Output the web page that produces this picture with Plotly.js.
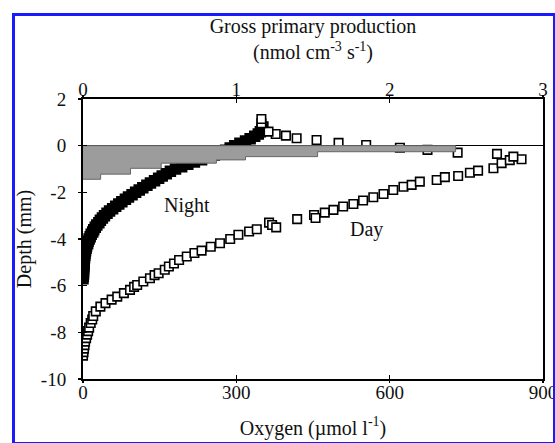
<!DOCTYPE html>
<html>
<head>
<meta charset="utf-8">
<script src="https://cdn.plot.ly/plotly-3.0.1.min.js"></script>
<style>
  html, body { margin: 0; padding: 0; background: #fff; }
  #wrap { position: relative; width: 555px; height: 443px; overflow: hidden; }
  #chart { position: absolute; left: 0; top: 0; width: 555px; height: 443px; }
  #frame { position: absolute; left: 12px; top: 13px; width: 544px; height: 432px;
           border: 3px solid #1a1aff; box-sizing: border-box; pointer-events: none; }
</style>
</head>
<body>
<div id="wrap"><div id="chart"></div><div id="frame"></div></div>
<script>
// ---- data ----
const oxygenTicks = [0, 300, 600, 900];
const gppTicks = [0, 1, 2, 3];
const depthTicks = [-10, -8, -6, -4, -2, 0, 2];

// Gross primary production layers (layer i spans gppEdges[i]..gppEdges[i+1])
const gppEdges = [0, -0.26, -0.47, -0.61, -0.75, -0.97, -1.22, -1.44];
const gppValues = [2.43, 1.53, 1.06, 0.87, 0.51, 0.31, 0.115];

// Night oxygen profile (filled squares)
const nightDepth = [0.8,0.7,0.6,0.5,0.4,0.3,0.2,0.1,0.0,-0.1,-0.2,-0.3,-0.4,-0.5,-0.6,-0.7,-0.8,-0.9,-1.0,-1.1,-1.2,-1.3,-1.4,-1.5,-1.6,-1.7,-1.8,-1.9,-2.0,-2.1,-2.2,-2.3,-2.4,-2.5,-2.6,-2.7,-2.8,-2.9,-3.0,-3.1,-3.2,-3.3,-3.4,-3.5,-3.6,-3.7,-3.8,-3.9,-4.0,-4.1,-4.2,-4.3,-4.4,-4.5,-4.6,-4.7,-4.8,-4.9,-5.0,-5.1,-5.2,-5.3,-5.4,-5.5,-5.6,-5.7];
const nightO2 = [352,350,347,343,336,327,318,307,297,288,279,268,257,245,232,218,205,193,181,171,163,155,148,140,132,125,117,110,103,96,89,83,76,70,64,58,52,47,42,38,34,31,27,24,21,19,16,14,12,10,9,7,6,5,4,3.5,3,2.5,2,2,1.5,1,1,1,0.5,0];

// Day oxygen profile (open squares)
const dayDepth = [-9.0,-8.85,-8.7,-8.55,-8.4,-8.25,-8.1,-7.95,-7.8,-7.6,-7.45,-7.3,-7.1,-6.9,-6.75,-6.6,-6.47,-6.32,-6.18,-6.05,-5.97,-5.82,-5.68,-5.55,-5.47,-5.32,-5.18,-5.05,-4.9,-4.75,-4.6,-4.5,-4.33,-4.18,-4.0,-3.82,-3.68,-3.58,-3.3,-3.4,-3.5,-3.15,-2.97,-3.1,-2.87,-2.75,-2.61,-2.5,-2.35,-2.21,-2.07,-1.9,-1.76,-1.68,-1.54,-1.47,-1.35,-1.3,-1.16,-1.07,-0.97,-0.75,-0.62,-0.58,-0.47,-0.35,-0.3,-0.18,-0.09,0.03,0.12,0.24,0.32,0.43,0.5,0.6,0.96,1.14];
const dayO2 = [0,1,2,3,4,6,8,10,12,15,18,20,25,34,44,56,67,80,92,100,106,118,131,140,148,160,168,178,188,203,218,232,250,268,288,304,325,340,364,370,378,419,452,455,473,490,509,529,548,568,588,607,627,643,659,692,708,734,757,773,803,819,835,858,842,810,733,674,620,554,500,457,418,397,377,363,349,349];

// ---- build step outline of the GPP profile ----
const gppX = [0], gppY = [gppEdges[0]];
for (let i = 0; i < gppValues.length; i++) {
  gppX.push(gppValues[i], gppValues[i]);
  gppY.push(gppEdges[i], gppEdges[i + 1]);
}
gppX.push(0); gppY.push(gppEdges[gppEdges.length - 1]);

const FONT = "Liberation Serif, Times New Roman, serif";
const INK = "#111";

const traces = [
  { x: gppX, y: gppY, xaxis: 'x2', yaxis: 'y', type: 'scatter', mode: 'lines',
    fill: 'toself', fillcolor: '#9c9c9c', line: { color: '#666', width: 1 },
    hoverinfo: 'skip', showlegend: false },
  { x: nightO2, y: nightDepth, type: 'scatter', mode: 'markers', name: 'Night',
    marker: { symbol: 'square', size: 10, color: '#000', line: { color: '#000', width: 1.5 } },
    showlegend: false },
  { x: dayO2, y: dayDepth, type: 'scatter', mode: 'markers', name: 'Day',
    marker: { symbol: 'square', size: 8.5, color: '#fff', line: { color: '#000', width: 1.6 } },
    showlegend: false },
  // carriers for the outer halves of the crossing tick marks
  { x: [null], y: [null], xaxis: 'x3', yaxis: 'y', showlegend: false, hoverinfo: 'skip' },
  { x: [null], y: [null], xaxis: 'x4', yaxis: 'y', showlegend: false, hoverinfo: 'skip' },
  { x: [null], y: [null], xaxis: 'x', yaxis: 'y2', showlegend: false, hoverinfo: 'skip' }
];

const tickFont = { family: FONT, size: 19, color: INK };
const titleFont = { family: FONT, size: 20, color: INK };

const layout = {
  width: 555, height: 443,
  margin: { l: 83, r: 12, t: 99, b: 64, pad: 0 },
  paper_bgcolor: '#fff', plot_bgcolor: '#fff',
  font: { family: FONT, color: INK },
  xaxis: {
    range: [0, 900], tickvals: oxygenTicks, ticktext: oxygenTicks.map(String),
    showgrid: false, zeroline: false, showline: true, linecolor: '#000', linewidth: 2,
    ticks: 'inside', ticklen: 4, tickwidth: 1.5, tickcolor: '#000',
    tickfont: tickFont, ticklabelstandoff: -5, ticklabeloverflow: 'allow',
    title: { text: 'Oxygen (µmol l<sup>-1</sup>)', font: titleFont, standoff: 19 },
    automargin: false, fixedrange: true
  },
  xaxis2: {
    overlaying: 'x', side: 'top', anchor: 'y',
    range: [0, 3], tickvals: gppTicks, ticktext: gppTicks.map(String),
    showgrid: false, zeroline: false, showline: true, linecolor: '#000', linewidth: 2,
    ticks: 'inside', ticklen: 4, tickwidth: 1.5, tickcolor: '#000',
    tickfont: tickFont, ticklabelstandoff: -7, ticklabeloverflow: 'allow',
    title: { text: 'Gross primary production<br>(nmol cm<sup>-3</sup> s<sup>-1</sup>)', font: titleFont, standoff: 14 },
    automargin: false, fixedrange: true
  },
  xaxis3: {
    overlaying: 'x', anchor: 'y', side: 'bottom', range: [0, 900], tickvals: oxygenTicks,
    showticklabels: false, showgrid: false, zeroline: false, showline: false,
    ticks: 'outside', ticklen: 3, tickwidth: 1.5, tickcolor: '#000', fixedrange: true
  },
  xaxis4: {
    overlaying: 'x', anchor: 'y', side: 'top', range: [0, 3], tickvals: gppTicks,
    showticklabels: false, showgrid: false, zeroline: false, showline: false,
    ticks: 'outside', ticklen: 3, tickwidth: 1.5, tickcolor: '#000', fixedrange: true
  },
  yaxis: {
    range: [-10, 2], tickvals: depthTicks, ticktext: depthTicks.map(String),
    showgrid: false, zeroline: true, zerolinecolor: '#000', zerolinewidth: 1.6,
    showline: true, mirror: true, linecolor: '#000', linewidth: 2,
    ticks: 'inside', ticklen: 4, tickwidth: 1.5, tickcolor: '#000',
    tickfont: tickFont, ticklabelstandoff: 11,
    title: { text: 'Depth (mm)', font: titleFont, standoff: 4 },
    automargin: false, fixedrange: true
  },
  yaxis2: {
    overlaying: 'y', anchor: 'x', side: 'left', range: [-10, 2], tickvals: depthTicks,
    showticklabels: false, showgrid: false, zeroline: false, showline: false,
    ticks: 'outside', ticklen: 4, tickwidth: 1.5, tickcolor: '#000', fixedrange: true
  },
  annotations: [
    { x: 203, y: -2.58, xref: 'x', yref: 'y', text: 'Night', showarrow: false,
      font: { family: FONT, size: 20, color: INK } },
    { x: 554, y: -3.61, xref: 'x', yref: 'y', text: 'Day', showarrow: false,
      font: { family: FONT, size: 20, color: INK } }
  ]
};

Plotly.newPlot('chart', traces, layout, { staticPlot: true, displayModeBar: false });
</script>
</body>
</html>
